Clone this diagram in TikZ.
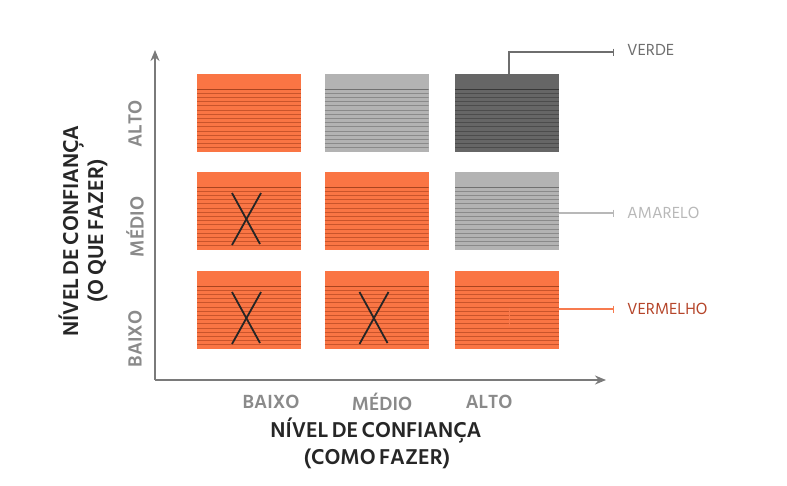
\documentclass[tikz,border=0pt]{standalone}
\usepackage{fontspec}
\setmainfont{Hind Siliguri}
\newfontfamily\ttlfont[WordSpace=0.65]{Hind Siliguri}
\usetikzlibrary{arrows.meta,calc}
\definecolor{orangecard}{HTML}{FA7544}
\definecolor{orangeline}{HTML}{C9542B}
\definecolor{orangehead}{HTML}{A9441F}
\definecolor{lgcard}{HTML}{B3B3B3}
\definecolor{lgline}{HTML}{8A8A8A}
\definecolor{lghead}{HTML}{707070}
\definecolor{dgcard}{HTML}{666666}
\definecolor{dgline}{HTML}{4C4C4C}
\definecolor{dghead}{HTML}{383838}
\definecolor{axisgrey}{HTML}{7A7A7A}
\definecolor{lvlgrey}{HTML}{8A8A8A}
\definecolor{verdec}{HTML}{6E6E6E}
\definecolor{amarc}{HTML}{B8B8B8}
\definecolor{vermtext}{HTML}{B5452A}
\definecolor{vermline}{HTML}{F77B4F}
\begin{document}
\begin{tikzpicture}[x=1pt,y=-1pt,
  card/.style n args={3}{rectangle, minimum width=104pt, minimum height=78pt, inner sep=0pt, fill=#1,
    path picture={
      \draw[#3, line width=1pt] ([yshift=-15pt]path picture bounding box.north west) -- ([yshift=-15pt]path picture bounding box.north east);
      \foreach \k in {1,...,14}
        \draw[#2, line width=0.75pt] ([yshift=-15pt-\k*4.2pt]path picture bounding box.north west) -- ([yshift=-15pt-\k*4.2pt]path picture bounding box.north east);
    }},
  orangec/.style={card={orangecard}{orangeline}{orangehead}},
  lightc/.style={card={lgcard}{lgline}{lghead}},
  darkc/.style={card={dgcard}{dgline}{dghead}},
  axis/.style={draw=axisgrey, line width=2pt, -{Stealth[length=11pt,width=9pt]}},
  xmark/.style={draw=black!85, line width=1.8pt},
  lvl/.style={font=\bfseries\fontsize{19.5}{22}\selectfont, text=lvlgrey, inner sep=0pt},
  ttl/.style={font=\ttlfont\bfseries\fontsize{22}{24}\selectfont, text=black!85, inner sep=0pt},
  legtext/.style={font=\fontsize{16.5}{18}\selectfont, inner sep=0pt, anchor=west},
  legline/.style={line width=1.2pt, -{Bar[width=7pt,line width=1.2pt]}},
]
\useasboundingbox (0,0) rectangle (787,485);

% cards
\node[orangec] (c11) at (249,113) {};
\node[lightc]  (c12) at (376.5,113) {};
\node[darkc]   (c13) at (507,113) {};
\node[orangec] (c21) at (249,211) {};
\node[orangec] (c22) at (376.5,211) {};
\node[lightc]  (c23) at (507,211) {};
\node[orangec] (c31) at (249,310) {};
\node[orangec] (c32) at (376.5,310) {};
\node[orangec] (c33) at (507,310) {};

% faint mark in c33
\draw[vermline!70!orangecard, line width=0.8pt] ($(c33.center)+(2,-2)$) -- ($(c33.center)+(2,16)$);

% X marks
\foreach \c in {c21,c31,c32}{
  \draw[xmark] ($(\c.center)+(-17,-18)$) -- ($(\c.center)+(11,33)$);
  \draw[xmark] ($(\c.center)+(12,-18)$) -- ($(\c.center)+(-17,34)$);
}

% axes
\coordinate (O) at (155,380);
\coordinate (ytip) at (155,50);
\coordinate (xtip) at (606,380);
\draw[axis] (O) -- (ytip);
\draw[axis] (O) -- (xtip);

% level labels
\node[lvl, rotate=90] (yalto) at (135,124) {ALTO};
\node[lvl, rotate=90] (ymedio) at (135,227) {MÉDIO};
\node[lvl, rotate=90] (ybaixo) at (135,339) {BAIXO};
\node[lvl] (xbaixo) at (271,402) {BAIXO};
\node[lvl] (xmedio) at (382,402) {MÉDIO};
\node[lvl] (xalto) at (489,402) {ALTO};

% titles
\node[ttl, rotate=90] (yt1) at (72,231) {NÍVEL DE CONFIANÇA};
\node[ttl, rotate=90] (yt2) at (98,231) {(O QUE FAZER)};
\node[ttl] (xt1) at (376,431) {NÍVEL DE CONFIANÇA};
\node[ttl] (xt2) at (377,459) {(COMO FAZER)};

% legend
\coordinate (vend) at (614,52);
\coordinate (aend) at (614,213);
\coordinate (mend) at (614,309);
\draw[legline, draw=verdec] ([xshift=2pt]c13.north) |- (vend);
\draw[legline, draw=amarc] (c23.east |- aend) -- (aend);
\draw[legline, draw=vermline] (c33.east |- mend) -- (mend);
\node[legtext, text=verdec] (verde) at (627,50) {VERDE};
\node[legtext, text=amarc] (amarelo) at (627,213) {AMARELO};
\node[legtext, text=vermtext] (vermelho) at (627,309) {VERMELHO};
\end{tikzpicture}
\end{document}
